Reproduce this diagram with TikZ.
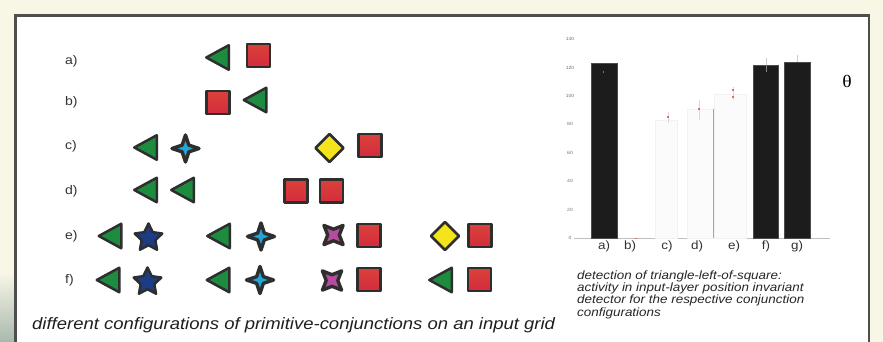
\documentclass[tikz,border=0pt]{standalone}
\usepackage{fontspec}
\newfontfamily\wsans{Liberation Sans}[FakeStretch=1.12]
\newfontfamily\wserif{Liberation Serif}[FakeStretch=1.12]

\definecolor{cream}{HTML}{F8F7E6}
\definecolor{moss}{HTML}{A9B8AE}
\definecolor{framegray}{HTML}{4E4E4E}
\definecolor{edgegray}{HTML}{2E2E2E}
\definecolor{trigreen}{HTML}{1E8C3E}
\definecolor{sqredtop}{HTML}{DA4239}
\definecolor{sqredbot}{HTML}{D42B3E}
\definecolor{starcyan}{HTML}{22A6D8}
\definecolor{starpink}{HTML}{B54C9F}
\definecolor{starnavy}{HTML}{1D3C86}
\definecolor{diayellow}{HTML}{F5E41C}
\definecolor{bardark}{HTML}{1C1C1C}
\definecolor{errred}{HTML}{E0705A}

% primitive shapes, placed by their centre
\newcommand\shTri[2]{\draw[edge, fill=trigreen]
  (#1-11.25,#2) -- (#1+11.25,#2-12.25) -- (#1+11.25,#2+12.25) -- cycle;}
\newcommand\shSq[2]{\draw[edge, top color=sqredtop, bottom color=sqredbot]
  (#1-11.5,#2-11.5) rectangle (#1+11.5,#2+11.5);}
\newcommand\shDia[2]{\draw[edge, fill=diayellow]
  (#1-14,#2) -- (#1,#2-14) -- (#1+14,#2) -- (#1,#2+14) -- cycle;}
\newcommand\shCross[5]{\draw[edge, line width=3.4, fill=#3, shift={(#1,#2)}, rotate=#4]
  (0:13.5pt) -- (45:#5) -- (90:13.5pt) -- (135:#5) -- (180:13.5pt)
  -- (225:#5) -- (270:13.5pt) -- (315:#5) -- cycle;}
\newcommand\shStar[2]{\draw[edge, fill=starnavy, shift={(#1,#2+2)}]
  (90:14.5pt) -- (126:7.2pt) -- (162:14.5pt) -- (198:7.2pt) -- (234:14.5pt)
  -- (270:7.2pt) -- (306:14.5pt) -- (342:7.2pt) -- (18:14.5pt) -- (54:7.2pt) -- cycle;}
% one bar of the chart: left, right, top, style
\newcommand\chartbar[4]{\filldraw[#4] (#1,238) rectangle (#2,#3);}

\begin{document}
\begin{tikzpicture}[x=1pt, y=-1pt,
  edge/.style={draw=edgegray, line width=2.5, line join=round},
  rowlab/.style={anchor=west, inner sep=0, text=black!80,
    font=\wsans\fontsize{12.5}{14}\selectfont},
  barlab/.style={inner sep=0, text=black!80,
    font=\wsans\fontsize{12}{14}\selectfont},
  ticklab/.style={inner sep=0, text=black!55,
    font=\wsans\fontsize{4.5}{5}\selectfont},
  capline/.style={anchor=west, inner sep=0, text=black!85,
    font=\wsans\itshape\fontsize{12}{14}\selectfont},
  darkbar/.style={fill=bardark, draw=black!70, line width=0.5},
  lightbar/.style={fill=black!1.5, draw=black!5, line width=0.4},
  errbar/.style={draw=black!15, line width=0.6},
  errdot/.style={draw=errred, line width=1.2},
]
\useasboundingbox (0,0) rectangle (883,342);

% paper, frame and the shaded lower-left corner
\fill[cream] (0,0) rectangle (883,342);
\shade[top color=cream, bottom color=moss] (0,272) rectangle (14.5,342);
\fill[white] (15.5,15.5) rectangle (869,345);
\draw[framegray, line width=2.5] (15.5,345) -- (15.5,15.5) -- (869,15.5) -- (869,345);

% row labels
\node[rowlab] (lab-a) at (65,61) {a)};
\node[rowlab] (lab-b) at (65,102) {b)};
\node[rowlab] (lab-c) at (65,146) {c)};
\node[rowlab] (lab-d) at (65,191) {d)};
\node[rowlab] (lab-e) at (65,236) {e)};
\node[rowlab] (lab-f) at (65,280) {f)};

% a)
\shTri{217.5}{57.5}
\shSq{258.5}{55.5}
% b)
\shSq{218}{102.5}
\shTri{255}{100}
% c)
\shTri{145.5}{147.5}
\shCross{185.5}{148.5}{starcyan}{0}{4.8pt}
\shDia{329.5}{148}
\shSq{370}{145.5}
% d)
\shTri{145.5}{190}
\shTri{182.5}{190}
\shSq{296}{191}
\shSq{331.5}{191}
% e)
\shTri{110}{236}
\shStar{148.5}{236}
\shTri{218.5}{236}
\shCross{261}{236.5}{starcyan}{0}{4.8pt}
\shCross{333.5}{235}{starpink}{45}{5.8pt}
\shSq{369}{235.5}
\shDia{445}{236}
\shSq{480}{235.5}
% f)
\shTri{108}{280}
\shStar{147.5}{280}
\shTri{218}{280}
\shCross{260}{280}{starcyan}{0}{4.8pt}
\shCross{332}{280.5}{starpink}{45}{5.8pt}
\shSq{369}{279.5}
\shTri{440.5}{280}
\shSq{479.5}{279.5}

\node[anchor=west, inner sep=0, text=black!88,
  font=\wsans\itshape\fontsize{16.5}{18}\selectfont] (grid-cap) at (32,325)
  {different configurations of primitive-conjunctions on an input grid};

% chart: axis labels
\foreach \v in {0,20,...,140}
  \node[ticklab] (tick-\v) at (570,238-1.42*\v) {\v};
\draw[black!25, line width=0.6] (574,238.5) -- (830,238.5);

% bars
\chartbar{591}{617}{63}{darkbar}
\chartbar{655}{677}{120}{lightbar}
\chartbar{687}{713}{109}{lightbar}
\chartbar{714}{746}{94}{lightbar}
\chartbar{753}{778}{65}{darkbar}
\chartbar{784}{810}{62}{darkbar}
\draw[black!35, line width=0.5] (713,109) -- (713,238);

% error marks
\draw[black!55, line width=0.8] (603,71) -- (603,73.5);
\draw[errdot] (636,237.5) -- (636,239);
\draw[errbar] (668,112) -- (668,123);
\draw[errdot] (668,116) -- (668,118);
\draw[errbar] (699,100) -- (699,120);
\draw[errdot] (699,108) -- (699,110);
\draw[errbar] (733,87) -- (733,100);
\draw[errdot] (733,89) -- (733,91);
\draw[errdot] (733,96) -- (733,98);
\draw[black!20, line width=0.5] (766,58) -- (766,65);
\draw[black!50, line width=0.5] (766,65) -- (766,72);
\draw[black!20, line width=0.5] (797,55) -- (797,62);

% bar labels
\node[barlab] (bar-a) at (604,246) {a)};
\node[barlab] (bar-b) at (630,246) {b)};
\node[barlab] (bar-c) at (667,246) {c)};
\node[barlab] (bar-d) at (697,246) {d)};
\node[barlab] (bar-e) at (734,246) {e)};
\node[barlab] (bar-f) at (766,246) {f)};
\node[barlab] (bar-g) at (797,246) {g)};

\node[inner sep=0, font=\wserif\fontsize{17.5}{20}\selectfont] (theta) at (847,81) {θ};

% chart caption
\node[capline] (cap-1) at (577,276) {detection of triangle-left-of-square:};
\node[capline] (cap-2) at (577,288.3) {activity in input-layer position invariant};
\node[capline] (cap-3) at (577,300.6) {detector for the respective conjunction};
\node[capline] (cap-4) at (577,313) {configurations};
\end{tikzpicture}
\end{document}
